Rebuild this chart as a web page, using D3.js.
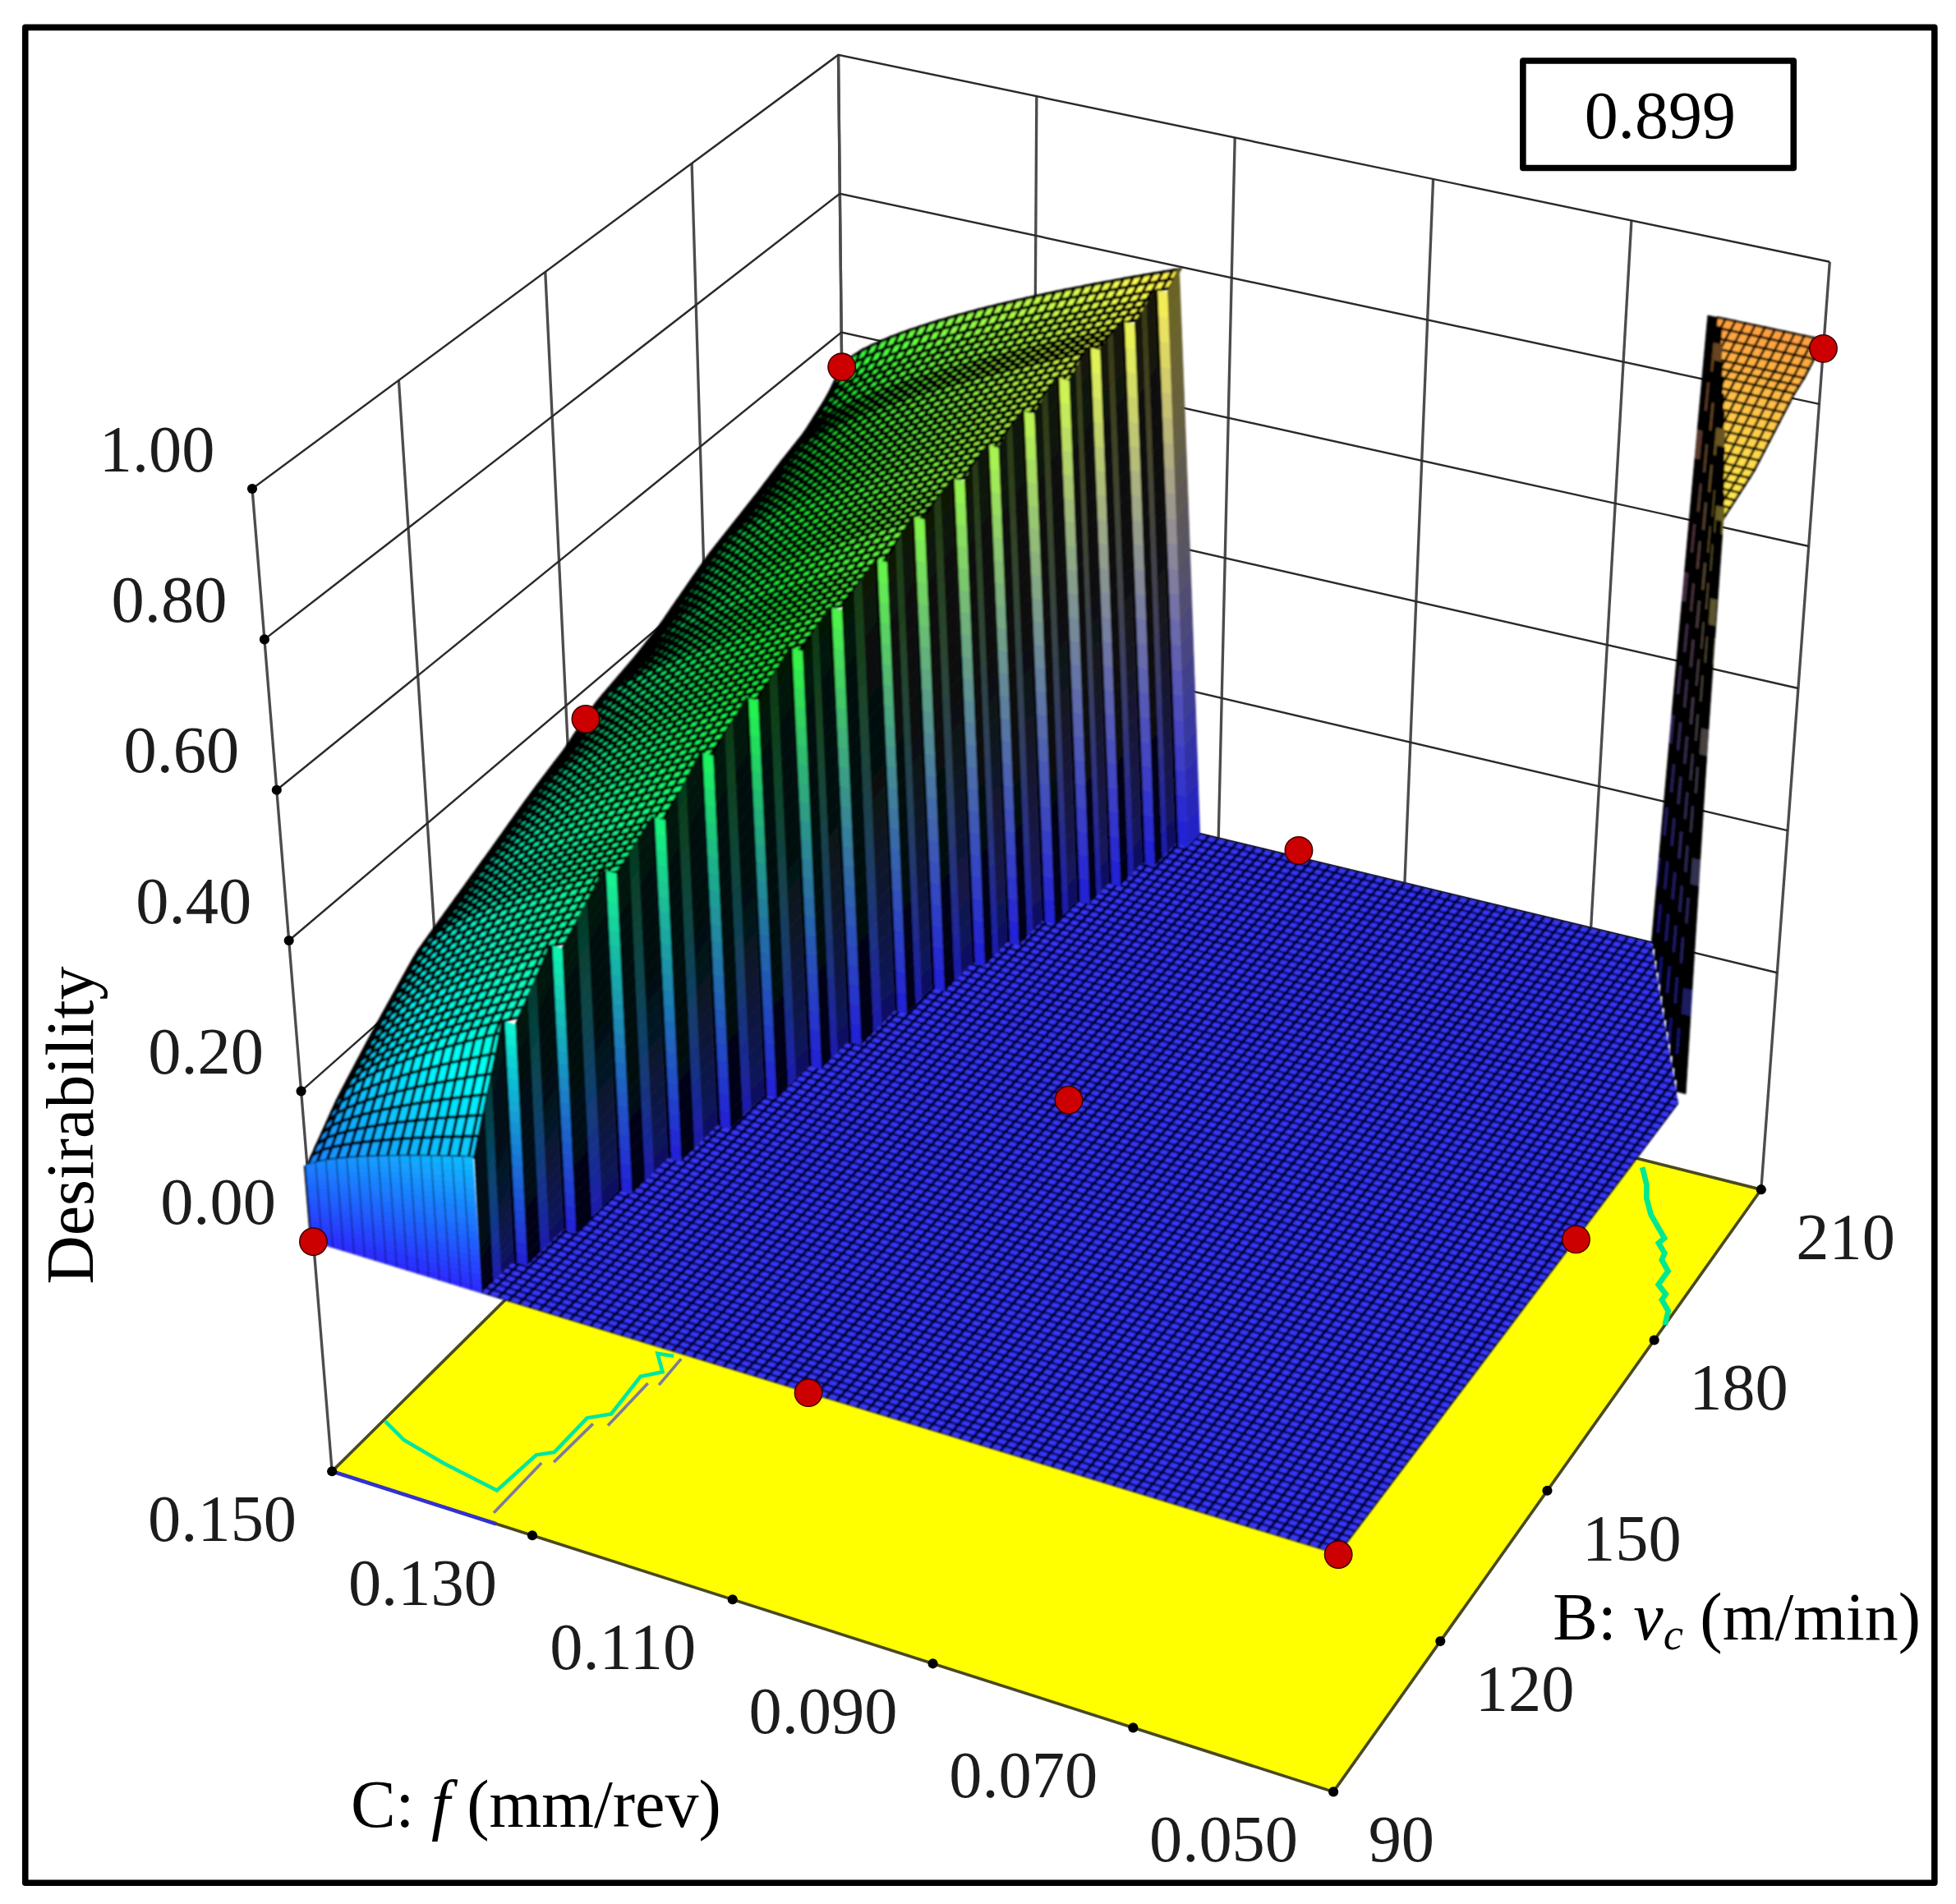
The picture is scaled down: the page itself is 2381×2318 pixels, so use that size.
<!DOCTYPE html>
<html>
<head>
<meta charset="utf-8">
<script src="https://cdn.jsdelivr.net/npm/d3@7"></script>
<style>
  html, body { margin: 0; padding: 0; background: #fff; }
  text { font-family: "Liberation Serif", serif; }
</style>
</head>
<body>
<div id="chart"></div>
<script>
// Axis ticks
const fTicks = [0.150, 0.130, 0.110, 0.090, 0.070, 0.050];
const vTicks = [90, 120, 150, 180, 210];
const dTicks = [0.00, 0.20, 0.40, 0.60, 0.80, 1.00];

// Plateau on the high feed side, one entry per step of its stair shaped cliff
const stepV = [90, 97.5, 106, 116, 124.5, 133, 141, 148.6, 155, 163, 169, 175.6, 181, 186.6, 192, 196.7, 202, 207, 210];
const edgeD = [0.10, 0.15, 0.195, 0.245, 0.27, 0.295, 0.32, 0.34, 0.365, 0.38, 0.395, 0.42, 0.44, 0.455, 0.47, 0.485, 0.50, 0.525, 0.55];
const cliffD = [0.18, 0.32, 0.38, 0.43, 0.46, 0.505, 0.54, 0.57, 0.595, 0.62, 0.65, 0.67, 0.69, 0.71, 0.73, 0.75, 0.76, 0.78, 0.80];
const cliffF = [0.1336, 0.1323, 0.1311, 0.1298, 0.1285, 0.1272, 0.1260, 0.1247, 0.1234, 0.1222, 0.1209, 0.1196, 0.1184, 0.1171, 0.1158, 0.1146, 0.1133, 0.1120];

// Spike in the low feed, high speed corner
const spikeV = [183, 185, 187, 189, 191, 193, 195, 197, 199, 201, 203, 205, 207, 209, 210];
const spikeBaseF = [0.05, 0.051, 0.052, 0.053, 0.054, 0.055, 0.056, 0.057, 0.058, 0.059, 0.060, 0.061, 0.062, 0.063, 0.0635];
const spikeTopF = [0.05, 0.0505, 0.0513, 0.0521, 0.0529, 0.0537, 0.0545, 0.0554, 0.0563, 0.0572, 0.0581, 0.0590, 0.0599, 0.0608, 0.0618];
const spikeD = [0.785, 0.79, 0.795, 0.80, 0.805, 0.81, 0.82, 0.83, 0.84, 0.85, 0.86, 0.865, 0.875, 0.885, 0.89];

// Design points (red markers)
const pointF = [0.15, 0.1017, 0.05, 0.05, 0.05, 0.10, 0.1014, 0.15, 0.15];
const pointV = [90, 90, 90, 155, 210, 150, 210, 154, 210];
const pointD = [0, 0, 0, 0, 0.878, 0.04, 0.01, 0.36, 0.55];

// Contours on the floor
const contour1F = [0.1498, 0.1469, 0.1421, 0.136, 0.1356, 0.1344, 0.1344, 0.1328, 0.1333, 0.1319, 0.1337, 0.1322];
const contour1V = [101.9, 99.6, 97.7, 95.9, 104.3, 105.8, 113.6, 115.6, 123.8, 125.8, 128.8, 129.2];
const contour2F = [[0.1346, 0.1346], [0.1337, 0.1335], [0.1322, 0.1322], [0.1312, 0.1314]];
const contour2V = [[91.8, 103.2], [104, 112.9], [113.4, 123], [123.3, 129.1]];
const contour3F = [0.0625, 0.0609, 0.060, 0.0585, 0.0557, 0.0559, 0.0547, 0.0545, 0.0532, 0.0532, 0.0519, 0.0519, 0.0506, 0.05];
const contour3V = [208.7, 205.9, 203.6, 201, 197.6, 196.5, 195.1, 193.8, 192.2, 189.5, 188.2, 187.1, 185.5, 183];

const svg = d3.select("#chart").append("svg")
  .attr("width", 2381)
  .attr("height", 2318)
  .attr("viewBox", "0 0 1568 1527")
  .style("display", "block");

const defs = svg.append("defs");
defs.append("filter").attr("id", "soft")
  .attr("filterUnits", "userSpaceOnUse")
  .attr("x", 0).attr("y", 0).attr("width", 1568).attr("height", 1527)
  .append("feGaussianBlur").attr("stdDeviation", 0.6);
defs.append("filter").attr("id", "softText")
  .attr("filterUnits", "userSpaceOnUse")
  .attr("x", 0).attr("y", 0).attr("width", 1568).attr("height", 1527)
  .append("feGaussianBlur").attr("stdDeviation", 0.45);

// The plot box is drawn by blending its eight corners
const fScale = d3.scaleLinear().domain([0.15, 0.05]).range([0, 1]);
const vScale = d3.scaleLinear().domain([90, 210]).range([0, 1]);
const dScale = d3.scaleLinear().domain([-0.305, 1]).range([0, 1]);

const boxFloor = [[266, 1180], [1069, 1437], [1412, 954], [680, 770]];
const boxTop = [[202, 392], [1086, 623], [1467, 210], [672, 44]];

function project(f, v, d) {
  const a = fScale(f), b = vScale(v), t = dScale(d);
  const blend = (c, i) => (1 - a) * (1 - b) * c[0][i] + a * (1 - b) * c[1][i] + a * b * c[2][i] + (1 - a) * b * c[3][i];
  return [
    blend(boxFloor, 0) + t * (blend(boxTop, 0) - blend(boxFloor, 0)),
    blend(boxFloor, 1) + t * (blend(boxTop, 1) - blend(boxFloor, 1))
  ];
}

const line = d3.line();
const polygon = pts => line(pts) + "Z";

const colorMap = d3.scaleLinear()
  .domain([0, 0.25, 0.55, 0.77, 0.89, 1])
  .range(["#2a2aff", "#00ffff", "#20ff40", "#ffff50", "#ff9c40", "#ff0000"]);

const edgeScale = d3.scaleLinear().domain(stepV).range(edgeD);
const cliffScale = d3.scaleLinear().domain(stepV).range(cliffD);
const limitScale = d3.scaleLinear().domain(stepV.slice(0, -1)).range(cliffF);
const spikeScale = d3.scaleLinear().domain(spikeV).range(spikeD);
// The cliff is not quite upright: its top sits at a slightly different feed than its foot
const leanScale = d3.scaleLinear().domain([90, 210]).range([-0.001, 0.0042]);
// Rises fast near the edge and flattens towards the cliff
const bowScale = d3.scalePow().exponent(0.75).domain([0, 1]).range([0, 1]).clamp(true);

function stepIndex(v) {
  return Math.min(d3.bisectRight(stepV, v) - 1, cliffF.length - 1);
}

function cliffTopF(i, v) {
  return cliffF[i] + leanScale(v) * cliffScale(v);
}

// Height of the plateau at a feed and speed
function plateauD(f, v) {
  const limit = limitScale(v) + leanScale(v) * cliffScale(v);
  const e = edgeScale(v), c = cliffScale(v);
  return e + (c - e) * bowScale((0.15 - f) / (0.15 - limit));
}

// Walls
const walls = svg.append("g").attr("fill", "none");

vTicks.forEach(v => {
  walls.append("path")
    .attr("d", line([project(0.15, v, v === 90 ? -0.305 : 0), project(0.15, v, 1)]))
    .attr("stroke", "#4c4c4c").attr("stroke-width", 2.2);
});
fTicks.forEach(f => {
  walls.append("path")
    .attr("d", line([project(f, 210, f === 0.05 ? -0.305 : 0), project(f, 210, 1)]))
    .attr("stroke", "#4c4c4c").attr("stroke-width", 2.2);
});
dTicks.forEach(d => {
  walls.append("path")
    .attr("d", line([project(0.15, 90, d), project(0.15, 210, d), project(0.05, 210, d)]))
    .attr("stroke", "#2a2a2a").attr("stroke-width", 1.6);
});

// Floor
const floor = svg.append("g").attr("filter", "url(#softText)");
floor.append("path")
  .attr("d", polygon([project(0.15, 90, -0.305), project(0.05, 90, -0.305), project(0.05, 210, -0.305), project(0.15, 210, -0.305)]))
  .attr("fill", "#ffff00")
  .attr("stroke", "#4a4a20")
  .attr("stroke-width", 2.4);
floor.append("path")
  .attr("d", line([project(0.15, 90, -0.305), project(0.1336, 90, -0.305)]))
  .attr("fill", "none")
  .attr("stroke", "#3030d0")
  .attr("stroke-width", 3);

const floorLine = (fs, vs) => line(fs.map((f, i) => project(f, vs[i], -0.305)));
floor.append("path")
  .attr("d", floorLine(contour1F, contour1V))
  .attr("fill", "none").attr("stroke", "#00e6a0").attr("stroke-width", 3);
contour2F.forEach((fs, i) => {
  floor.append("path")
    .attr("d", floorLine(fs, contour2V[i]))
    .attr("fill", "none").attr("stroke", "#7c7c9c").attr("stroke-width", 2.4);
});
floor.append("path")
  .attr("d", floorLine(contour3F, contour3V))
  .attr("fill", "none").attr("stroke", "#00e890").attr("stroke-width", 4.4);

// Surface
const surface = svg.append("g").attr("filter", "url(#soft)");

const fGrid = d3.range(0, 101).map(i => 0.05 + i * 0.001);
const vGrid = d3.range(0, 101).map(i => 90 + i * 1.2);

// Flat part at zero: outline runs along the spike and the cliff steps
const flatOutline = [[0.05, 90]];
spikeV.forEach((v, i) => flatOutline.push([spikeBaseF[i], v]));
for (let i = cliffF.length - 1; i >= 0; i--) {
  flatOutline.push([cliffF[i], stepV[i + 1]]);
  flatOutline.push([cliffF[i], stepV[i]]);
}
const flatPath = polygon(flatOutline.map(p => project(p[0], p[1], 0)));

defs.append("clipPath").attr("id", "flatClip").append("path").attr("d", flatPath);
surface.append("path").attr("d", flatPath).attr("fill", "#3838ff");

const flatMesh = surface.append("g")
  .attr("clip-path", "url(#flatClip)")
  .attr("fill", "none")
  .attr("stroke", "#00002c");
flatMesh.append("path")
  .attr("stroke-width", 2.4)
  .attr("d", fGrid.map(f => line([project(f, 90, 0), project(f, 210, 0)])).join(""));
flatMesh.append("path")
  .attr("stroke-width", 1.8)
  .attr("d", vGrid.map(v => line([project(0.05, v, 0), project(0.15, v, 0)])).join(""));

// Upright face between a foot and a top edge, shaded from blue to the colour of its top
function drawFace(foot0, foot1, top0, top1, brightness, stroke) {
  const shade = d3.interpolateRgb(colorMap(0), colorMap((top0[2] + top1[2]) / 2));
  const at = (foot, top, t) => project(foot[0] + (top[0] - foot[0]) * t, foot[1] + (top[1] - foot[1]) * t, top[2] * t);
  const slices = 22;
  d3.range(slices).forEach(k => {
    const t0 = k / slices, t1 = (k + 1) / slices;
    const b = brightness(t0, k);
    const fill = d3.interpolateRgb("#000000", shade(t0))(b);
    surface.append("path")
      .attr("d", polygon([at(foot0, top0, t0), at(foot1, top1, t0), at(foot1, top1, t1), at(foot0, top0, t1)]))
      .attr("fill", fill)
      .attr("stroke", fill)
      .attr("stroke-width", 0.5);
  });
  if (stroke) {
    surface.append("path")
      .attr("d", line([at(foot1, top1, 0), at(foot1, top1, 1)]))
      .attr("stroke", "#000814")
      .attr("stroke-width", stroke)
      .attr("fill", "none");
  }
}

// Top of the plateau, far rows first
const topCells = [];
for (let j = vGrid.length - 2; j >= 0; j--) {
  const v0 = vGrid[j], v1 = vGrid[j + 1];
  const limit = cliffTopF(stepIndex(v0), v0);
  const fs = [limit].concat(fGrid.filter(f => f > limit + 0.0002));
  for (let i = 0; i < fs.length - 1; i++) {
    const fa = fs[i], fb = fs[i + 1];
    const d00 = plateauD(fa, v0), d10 = plateauD(fb, v0);
    const d01 = plateauD(fa, v1), d11 = plateauD(fb, v1);
    topCells.push({
      path: polygon([project(fa, v0, d00), project(fb, v0, d10), project(fb, v1, d11), project(fa, v1, d01)]),
      level: (d00 + d10 + d01 + d11) / 4
    });
  }
}
surface.append("g").selectAll("path")
  .data(topCells)
  .enter()
  .append("path")
  .attr("d", d => d.path)
  .attr("fill", d => colorMap(d.level))
  .attr("stroke", "#000000")
  .attr("stroke-width", 2.3);

// Cliff steps, far ones first. Treads are dark, the short risers are the bright stripes
for (let i = cliffF.length - 1; i >= 0; i--) {
  const f = cliffF[i], va = stepV[i], vb = stepV[i + 1];
  const at = s => va + s * (vb - va);
  const foot = s => [f, at(s)];
  const top = s => {
    const tf = cliffTopF(i, at(s));
    return [tf, at(s), cliffScale(at(s))];
  };
  if (i === cliffF.length - 1) {
    drawFace(foot(0), foot(1), top(0), top(1), t => 0.42 + 0.35 * (1 - t));
  } else {
    drawFace(foot(0), foot(0.38), top(0), top(0.38), () => 0.08);
    drawFace(foot(0.38), foot(0.62), top(0.38), top(0.62), t => 0.22 + 0.45 * (1 - t));
    drawFace(foot(0.62), foot(1), top(0.62), top(1), t => 0.08 + 0.55 * Math.max(0, 0.55 - t));
  }
  if (i > 0) {
    const fNext = cliffF[i - 1];
    const d = cliffScale(va);
    const fMid = f + 0.72 * (fNext - f);
    const topNext = cliffTopF(i - 1, va), topHere = cliffTopF(i, va);
    const topMid = topHere + 0.72 * (topNext - topHere);
    drawFace([fNext, va], [fMid, va], [topNext, va, d], [topMid, va, d], () => 0.06);
    drawFace([fMid, va], [f, va], [topMid, va, d], [topHere, va, d], t => 0.84 + 0.16 * t);
  }
}

// Front face of the plateau at the lowest speed
d3.range(0, 16).forEach(i => {
  const fa = cliffF[0] + i * 0.00104, fb = fa + 0.00104;
  drawFace([fa, 90], [fb, 90], [fa, 90, plateauD(fa, 90)], [fb, 90, plateauD(fb, 90)], () => 1, 1.6);
});

// Spike: top first, then the narrow risers from far to near
const spikeCells = [];
for (let j = vGrid.length - 2; j >= 0; j--) {
  const v0 = vGrid[j], v1 = vGrid[j + 1];
  if (v1 <= spikeV[0]) continue;
  const idx = d3.bisectLeft(spikeV, v0);
  const limit = spikeTopF[Math.min(idx, spikeTopF.length - 1)];
  const low = Math.max(v0, spikeV[0]);
  fGrid.filter(f => f < limit).forEach(f => {
    const fb = Math.min(f + 0.001, limit);
    spikeCells.push({
      path: polygon([project(f, low, spikeScale(low)), project(fb, low, spikeScale(low)), project(fb, v1, spikeScale(v1)), project(f, v1, spikeScale(v1))]),
      level: spikeScale(low)
    });
  });
}
surface.append("g").selectAll("path")
  .data(spikeCells)
  .enter()
  .append("path")
  .attr("d", d => d.path)
  .attr("fill", d => colorMap(d.level))
  .attr("stroke", "#100800")
  .attr("stroke-width", 1.9);

for (let i = spikeV.length - 1; i >= 1; i--) {
  const v = spikeV[i], d = spikeD[i];
  const b1 = spikeBaseF[i], b0 = spikeBaseF[i - 1];
  const t1 = spikeTopF[i], t0 = spikeTopF[i - 1];
  // Mostly black because the mesh lines crowd together, with short lit dashes
  drawFace([b0, v], [b1, v], [t0, v, d], [t1, v, d], (t, k) => ((k + i * 2) % 5 === 0 ? 0.42 : 0.02));
}

// Tick dots
const dots = [];
dTicks.forEach(d => dots.push(project(0.15, 90, d)));
fTicks.forEach(f => dots.push(project(f, 90, -0.305)));
vTicks.slice(1).forEach(v => dots.push(project(0.05, v, -0.305)));
svg.append("g").selectAll("circle")
  .data(dots)
  .enter()
  .append("circle")
  .attr("cx", d => d[0])
  .attr("cy", d => d[1])
  .attr("r", 4)
  .attr("fill", "#000");

// Design points
svg.append("g").selectAll("path")
  .data(pointF.map((f, i) => project(f, pointV[i], pointD[i])))
  .enter()
  .append("path")
  .attr("transform", d => `translate(${d[0]},${d[1]})`)
  .attr("d", d3.symbol().type(d3.symbolCircle).size(380))
  .attr("fill", "#cc0000")
  .attr("stroke", "#400000")
  .attr("stroke-width", 1);

// Tick labels
const labels = svg.append("g")
  .attr("filter", "url(#softText)")
  .attr("fill", "#1c1c1c")
  .attr("font-size", 53);

dTicks.forEach(d => {
  const p = project(0.15, 90, d);
  labels.append("text")
    .attr("x", p[0] - 30).attr("y", p[1] - 14)
    .attr("text-anchor", "end")
    .text(d3.format(".2f")(d));
});
fTicks.forEach(f => {
  const p = project(f, 90, -0.305);
  labels.append("text")
    .attr("x", p[0] - 88).attr("y", p[1] + 56)
    .attr("text-anchor", "middle")
    .text(d3.format(".3f")(f));
});
vTicks.forEach(v => {
  const p = project(0.05, v, -0.305);
  labels.append("text")
    .attr("x", p[0] + 28).attr("y", p[1] + 56)
    .text(v);
});

// Axis titles
svg.append("text")
  .attr("transform", "translate(74,1030) rotate(-90)")
  .attr("font-size", 54)
  .attr("fill", "#000")
  .text("Desirability");

const cTitle = svg.append("text")
  .attr("x", 281).attr("y", 1465)
  .attr("font-size", 54)
  .attr("fill", "#000");
cTitle.append("tspan").text("C: ");
cTitle.append("tspan").attr("font-style", "italic").text("f");
cTitle.append("tspan").text(" (mm/rev)");

const bTitle = svg.append("text")
  .attr("x", 1245).attr("y", 1315)
  .attr("font-size", 54)
  .attr("fill", "#000");
bTitle.append("tspan").text("B: ");
bTitle.append("tspan").attr("font-style", "italic").text("v");
bTitle.append("tspan").attr("font-style", "italic").attr("font-size", 36).attr("dy", 8).text("c");
bTitle.append("tspan").attr("dy", -8).text(" (m/min)");

// Value box
svg.append("rect")
  .attr("x", 1221).attr("y", 48.7)
  .attr("width", 217).attr("height", 86)
  .attr("fill", "#fff")
  .attr("stroke", "#000")
  .attr("stroke-width", 5)
  .attr("stroke-linejoin", "round");
svg.append("text")
  .attr("x", 1331).attr("y", 110.8)
  .attr("text-anchor", "middle")
  .attr("font-size", 54)
  .attr("fill", "#000")
  .text("0.899");

// Frame
svg.append("rect")
  .attr("x", 20).attr("y", 22)
  .attr("width", 1531).attr("height", 1488)
  .attr("fill", "none")
  .attr("stroke", "#000")
  .attr("stroke-width", 5)
  .attr("stroke-linejoin", "round");
</script>
</body>
</html>
